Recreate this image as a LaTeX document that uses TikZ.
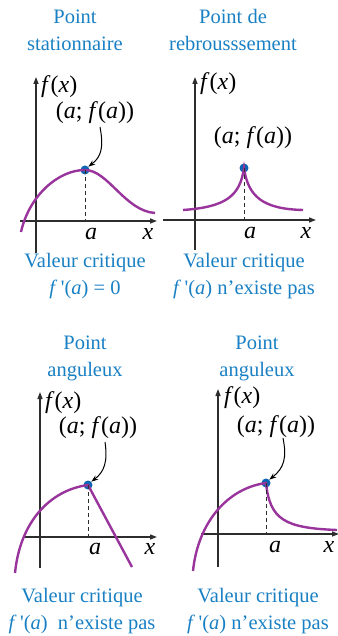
\documentclass[tikz,border=0pt]{standalone}
\usepackage{fontspec}
\setmainfont{Liberation Serif}
\usetikzlibrary{arrows.meta}
\definecolor{ttl}{RGB}{25,128,196}
\definecolor{dotc}{RGB}{12,102,180}
\definecolor{crv}{RGB}{152,52,155}
\definecolor{axc}{RGB}{45,45,45}
\newcommand{\ii}[1]{\textit{#1}}
\newcommand{\qs}{\textquotesingle}
\begin{document}
\begin{tikzpicture}[x=1pt,y=-1pt,
  bluetxt/.style={text=ttl,align=center,font=\fontsize{20.5}{27}\selectfont,inner sep=0pt},
  mathlbl/.style={font=\fontsize{24}{28}\selectfont,inner sep=0pt},
  axis/.style={draw=axc,line width=1.3pt,-{Triangle[length=7pt,width=5pt]}},
  curve/.style={draw=crv,line width=2.4pt},
  dropline/.style={draw=axc,line width=1pt,dash pattern=on 4pt off 3pt},
  pointer/.style={draw=black,line width=1pt,-{Stealth[length=7pt,width=5pt]}},
  dotpt/.style={circle,fill=dotc,inner sep=0pt,minimum size=9pt}]
\useasboundingbox (0,0) rectangle (337,636);
% ---------- Panel 1 ----------
\node[bluetxt] (t1) at (75,30) {Point\\stationnaire};
\coordinate (y1b) at (36,253); \coordinate (y1t) at (36,77);
\coordinate (x1l) at (20,221); \coordinate (x1r) at (157,221);
\draw[axis] (y1b) -- (y1t);
\draw[axis] (x1l) -- (x1r);
\node[dotpt] (p1) at (85,170) {};
\draw[curve] (21,232) .. controls (29,196) and (58,170) .. (p1.center) .. controls (108,170) and (125,211) .. (155,213);
\coordinate (a1) at (85,221);
\draw[dropline] (p1.center) -- (a1);
\node[mathlbl,anchor=west] (fx1) at (41,87) {\ii{f}(\ii{x})};
\node[mathlbl] (l1) at (95,113) {(\ii{a}; \ii{f}(\ii{a}))};
\coordinate (s1) at (100,127);
\draw[pointer] (s1) .. controls (104,148) and (101,157) .. (p1.north east);
\node[mathlbl] (la1) at (91,234) {\ii{a}};
\node[mathlbl] (lx1) at (148,234) {\ii{x}};
\node[bluetxt] (b1) at (85,276) {Valeur critique\\\ii{f}\,\qs(\ii{a}) = 0};
% ---------- Panel 2 ----------
\node[bluetxt] (t2) at (233,30) {Point de\\rebrousssement};
\coordinate (y2b) at (195,250); \coordinate (y2t) at (195,77);
\coordinate (x2l) at (163,220); \coordinate (x2r) at (316,220);
\draw[axis] (y2b) -- (y2t);
\draw[axis] (x2l) -- (x2r);
\node[dotpt] (p2) at (244,168) {};
\draw[curve] (183,210) .. controls (226,207) and (240,196) .. (p2.center) .. controls (248,196) and (262,209) .. (303,210);
\coordinate (a2) at (244,220);
\draw[dropline] (p2.center) -- (a2);
\node[mathlbl,anchor=west] (fx2) at (200,84) {\ii{f}(\ii{x})};
\node[mathlbl] (l2) at (253,138) {(\ii{a}; \ii{f}(\ii{a}))};
\node[mathlbl] (la2) at (250,233) {\ii{a}};
\node[mathlbl] (lx2) at (306,233) {\ii{x}};
\node[bluetxt] (b2) at (244,276) {Valeur critique\\\ii{f}\,\qs(\ii{a}) n’existe pas};
% ---------- Panel 3 ----------
\node[bluetxt] (t3) at (85,358) {Point\\anguleux};
\coordinate (y3b) at (40,568); \coordinate (y3t) at (40,392);
\coordinate (x3l) at (23,537); \coordinate (x3r) at (157,537);
\draw[axis] (y3b) -- (y3t);
\draw[axis] (x3l) -- (x3r);
\node[dotpt] (p3) at (88,485) {};
\draw[curve] (15,573) .. controls (20,522) and (50,490) .. (p3.center) -- (132,567);
\coordinate (a3) at (88,537);
\draw[dropline] (p3.center) -- (a3);
\node[mathlbl,anchor=west] (fx3) at (45,403) {\ii{f}(\ii{x})};
\node[mathlbl] (l3) at (98,428) {(\ii{a}; \ii{f}(\ii{a}))};
\coordinate (s3) at (105,442);
\draw[pointer] (s3) .. controls (108,462) and (104,472) .. (p3.north east);
\node[mathlbl] (la3) at (95,549) {\ii{a}};
\node[mathlbl] (lx3) at (150,549) {\ii{x}};
\node[bluetxt] (b3) at (82,611) {Valeur critique\\\ii{f}\,\qs(\ii{a})\ \ n’existe pas};
% ---------- Panel 4 ----------
\node[bluetxt] (t4) at (257,358) {Point\\anguleux};
\coordinate (y4b) at (218,567); \coordinate (y4t) at (218,389);
\coordinate (x4l) at (201,534); \coordinate (x4r) at (339,534);
\draw[axis] (y4b) -- (y4t);
\draw[axis] (x4l) -- (x4r);
\node[dotpt] (p4) at (266,483) {};
\draw[curve] (193,571) .. controls (198,522) and (228,488) .. (p4.center) .. controls (270,520) and (285,528) .. (337,530);
\coordinate (a4) at (266,534);
\draw[dropline] (p4.center) -- (a4);
\node[mathlbl,anchor=west] (fx4) at (224,398) {\ii{f}(\ii{x})};
\node[mathlbl] (l4) at (276,427) {(\ii{a}; \ii{f}(\ii{a}))};
\coordinate (s4) at (283,438);
\draw[pointer] (s4) .. controls (287,458) and (284,468) .. (p4.north east);
\node[mathlbl] (la4) at (275,547) {\ii{a}};
\node[mathlbl] (lx4) at (329,547) {\ii{x}};
\node[bluetxt] (b4) at (258,611) {Valeur critique\\\ii{f}\,\qs(\ii{a}) n’existe pas};
\end{tikzpicture}
\end{document}
